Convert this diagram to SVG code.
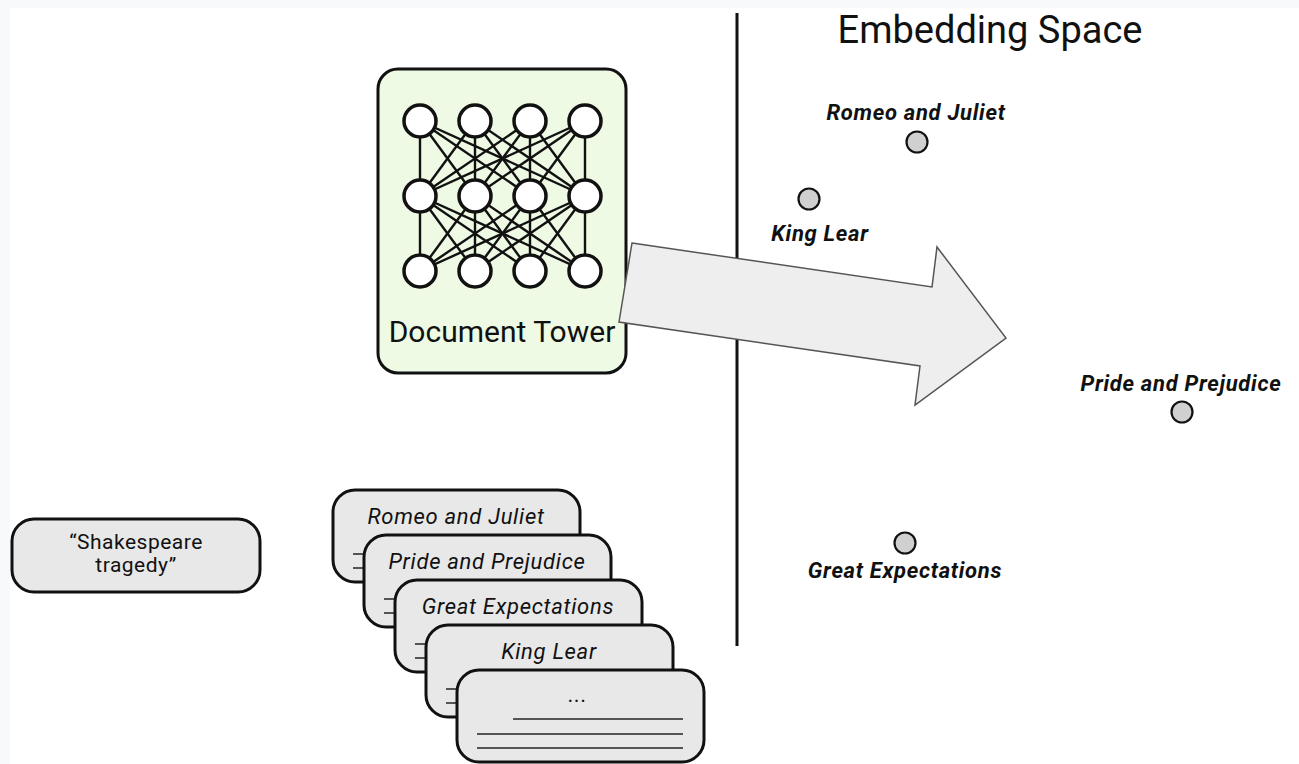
<svg xmlns="http://www.w3.org/2000/svg" width="1299" height="764" viewBox="0 0 1299 764">
  <style>
    .sans { font-family: Roboto, "Liberation Sans", sans-serif; fill: #111; }
    .tower { fill: #eefae4; stroke: #111; stroke-width: 3; }
    .neuron { fill: #fff; stroke: #111; stroke-width: 3.5; }
    .synapse { stroke: #111; stroke-width: 2.4; }
    .card { fill: #e8e8e8; stroke: #111; stroke-width: 3; }
    .rule { stroke: #555; stroke-width: 2; }
    .card-title { font-size: 22px; font-style: italic; letter-spacing: 0.7px; text-anchor: middle; }
    .point { fill: #d0d0d0; stroke: #111; stroke-width: 2.2; }
    .point-label { font-size: 22px; font-style: italic; font-weight: bold; letter-spacing: 0.7px; text-anchor: middle; }
  </style>
  <defs>
    <!-- one document card: three text rules under the title -->
    <g id="card-body">
      <rect class="card" x="0" y="0" width="247" height="92" rx="22" ry="22"/>
      <line class="rule" x1="56" y1="49" x2="226" y2="49"/>
      <line class="rule" x1="20" y1="64" x2="226" y2="64"/>
      <line class="rule" x1="20" y1="78" x2="226" y2="78"/>
    </g>
  </defs>

  <!-- page background -->
  <rect x="0" y="0" width="1299" height="764" fill="#f8f9fa"/>
  <rect x="10" y="8" width="1289" height="756" fill="#ffffff"/>

  <!-- divider between model side and embedding side -->
  <line id="divider" x1="737" y1="13" x2="737" y2="646" stroke="#111" stroke-width="3"/>

  <text id="title" class="sans" x="990" y="43" font-size="38" text-anchor="middle">Embedding Space</text>

  <!-- query node -->
  <g id="query">
    <rect x="12" y="519" width="248" height="73" rx="22" ry="22" fill="#e8e8e8" stroke="#111" stroke-width="3"/>
    <text class="sans" x="136" y="549" font-size="21" letter-spacing="0.5" text-anchor="middle">“Shakespeare</text>
    <text class="sans" x="136" y="572" font-size="21" letter-spacing="0.5" text-anchor="middle">tragedy”</text>
  </g>

  <!-- document tower with its network -->
  <g id="document-tower">
    <rect class="tower" x="378" y="69" width="248" height="304" rx="20" ry="20"/>
    <g id="synapses">
      <!-- input layer to hidden layer -->
      <line class="synapse" x1="420" y1="121" x2="420" y2="196"/>
      <line class="synapse" x1="420" y1="121" x2="475" y2="196"/>
      <line class="synapse" x1="420" y1="121" x2="530" y2="196"/>
      <line class="synapse" x1="420" y1="121" x2="585" y2="196"/>
      <line class="synapse" x1="475" y1="121" x2="420" y2="196"/>
      <line class="synapse" x1="475" y1="121" x2="475" y2="196"/>
      <line class="synapse" x1="475" y1="121" x2="530" y2="196"/>
      <line class="synapse" x1="475" y1="121" x2="585" y2="196"/>
      <line class="synapse" x1="530" y1="121" x2="420" y2="196"/>
      <line class="synapse" x1="530" y1="121" x2="475" y2="196"/>
      <line class="synapse" x1="530" y1="121" x2="530" y2="196"/>
      <line class="synapse" x1="530" y1="121" x2="585" y2="196"/>
      <line class="synapse" x1="585" y1="121" x2="420" y2="196"/>
      <line class="synapse" x1="585" y1="121" x2="475" y2="196"/>
      <line class="synapse" x1="585" y1="121" x2="530" y2="196"/>
      <line class="synapse" x1="585" y1="121" x2="585" y2="196"/>
      <!-- hidden layer to output layer -->
      <line class="synapse" x1="420" y1="196" x2="420" y2="271"/>
      <line class="synapse" x1="420" y1="196" x2="475" y2="271"/>
      <line class="synapse" x1="420" y1="196" x2="530" y2="271"/>
      <line class="synapse" x1="420" y1="196" x2="585" y2="271"/>
      <line class="synapse" x1="475" y1="196" x2="420" y2="271"/>
      <line class="synapse" x1="475" y1="196" x2="475" y2="271"/>
      <line class="synapse" x1="475" y1="196" x2="530" y2="271"/>
      <line class="synapse" x1="475" y1="196" x2="585" y2="271"/>
      <line class="synapse" x1="530" y1="196" x2="420" y2="271"/>
      <line class="synapse" x1="530" y1="196" x2="475" y2="271"/>
      <line class="synapse" x1="530" y1="196" x2="530" y2="271"/>
      <line class="synapse" x1="530" y1="196" x2="585" y2="271"/>
      <line class="synapse" x1="585" y1="196" x2="420" y2="271"/>
      <line class="synapse" x1="585" y1="196" x2="475" y2="271"/>
      <line class="synapse" x1="585" y1="196" x2="530" y2="271"/>
      <line class="synapse" x1="585" y1="196" x2="585" y2="271"/>
    </g>
    <g id="neurons">
      <circle class="neuron" cx="420" cy="121" r="16"/>
      <circle class="neuron" cx="475" cy="121" r="16"/>
      <circle class="neuron" cx="530" cy="121" r="16"/>
      <circle class="neuron" cx="585" cy="121" r="16"/>
      <circle class="neuron" cx="420" cy="196" r="16"/>
      <circle class="neuron" cx="475" cy="196" r="16"/>
      <circle class="neuron" cx="530" cy="196" r="16"/>
      <circle class="neuron" cx="585" cy="196" r="16"/>
      <circle class="neuron" cx="420" cy="271" r="16"/>
      <circle class="neuron" cx="475" cy="271" r="16"/>
      <circle class="neuron" cx="530" cy="271" r="16"/>
      <circle class="neuron" cx="585" cy="271" r="16"/>
    </g>
    <text class="sans" x="502" y="342" font-size="30" text-anchor="middle">Document Tower</text>
  </g>

  <!-- block arrow from the tower into the embedding space -->
  <g id="connectors">
    <polygon points="632,243 932,287 937,247 1006,338 915,405 920,366 619,322" fill="#eeeeee" stroke="#555" stroke-width="1.5" stroke-linejoin="miter"/>
  </g>

  <!-- stacked documents -->
  <g id="doc-romeo" transform="translate(333,490)">
    <use href="#card-body"/>
    <text class="sans card-title" x="123" y="34">Romeo and Juliet</text>
  </g>
  <g id="doc-pride" transform="translate(364,535)">
    <use href="#card-body"/>
    <text class="sans card-title" x="123" y="34">Pride and Prejudice</text>
  </g>
  <g id="doc-great" transform="translate(395,580)">
    <use href="#card-body"/>
    <text class="sans card-title" x="123" y="34">Great Expectations</text>
  </g>
  <g id="doc-lear" transform="translate(426,625)">
    <use href="#card-body"/>
    <text class="sans card-title" x="123" y="34">King Lear</text>
  </g>
  <g id="doc-more" transform="translate(457,670)">
    <use href="#card-body"/>
    <text class="sans card-title" x="121" y="32" font-style="normal">...</text>
  </g>

  <!-- embedded points -->
  <g id="pt-romeo">
    <text class="sans point-label" x="916" y="120">Romeo and Juliet</text>
    <circle class="point" cx="917" cy="142" r="10.5"/>
  </g>
  <g id="pt-lear">
    <circle class="point" cx="809" cy="199" r="10.5"/>
    <text class="sans point-label" x="820" y="241">King Lear</text>
  </g>
  <g id="pt-pride">
    <text class="sans point-label" x="1181" y="391">Pride and Prejudice</text>
    <circle class="point" cx="1182" cy="412" r="10.5"/>
  </g>
  <g id="pt-great">
    <circle class="point" cx="905" cy="543" r="10.5"/>
    <text class="sans point-label" x="905" y="578">Great Expectations</text>
  </g>
</svg>
